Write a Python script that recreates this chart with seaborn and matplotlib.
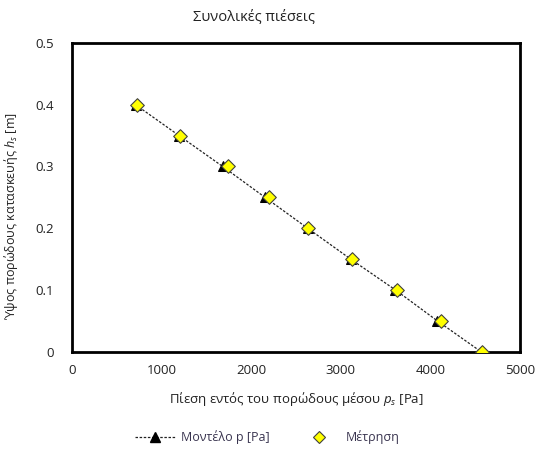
import matplotlib
matplotlib.use("Agg")
import matplotlib.pyplot as plt
import seaborn as sns
import pandas as pd
from matplotlib.lines import Line2D

sns.set_theme(style="white")
plt.rcParams['font.family'] = ['Open Sans', 'DejaVu Sans']
plt.rcParams['mathtext.fontset'] = 'custom'
plt.rcParams['mathtext.it'] = 'Open Sans:italic'
plt.rcParams['mathtext.rm'] = 'Open Sans'

# Heights of the porous structure [m]
height = [0.40, 0.35, 0.30, 0.25, 0.20, 0.15, 0.10, 0.05, 0.00]
# Model pressure [Pa]
model_p = [710, 1195, 1682, 2154, 2630, 3110, 3610, 4077, 4565]
# Measured pressure [Pa]
measured_p = [722, 1205, 1745, 2199, 2637, 3121, 3624, 4115, 4572]

x_ticks = [0, 1000, 2000, 3000, 4000, 5000]
y_ticks = [0, 0.1, 0.2, 0.3, 0.4, 0.5]
y_tick_labels = ["0", "0.1", "0.2", "0.3", "0.4", "0.5"]

model_df = pd.DataFrame({"p": model_p, "h": height})
meas_df = pd.DataFrame({"p": measured_p, "h": height})

fig = plt.figure(figsize=(5.37, 4.55), dpi=100)
ax = fig.add_axes([72 / 537, 1 - 351.7 / 455, 448 / 537, 308.7 / 455])

sns.lineplot(data=model_df, x="p", y="h", ax=ax, sort=False, color="#222222",
             linestyle=(0, (2.0, 1.3)), linewidth=0.9, marker="^", markersize=7,
             markerfacecolor="black", markeredgecolor="black", zorder=2)
sns.scatterplot(data=meas_df, x="p", y="h", ax=ax, marker="D", s=48,
                color="#ffff00", edgecolor="#404040", linewidth=0.8, zorder=3)

ax.set_xlim(0, 5000)
ax.set_ylim(0, 0.5)
ax.set_xticks(x_ticks)
ax.set_yticks(y_ticks)
ax.set_yticklabels(y_tick_labels)
ax.tick_params(direction="in", length=5, width=1, color="black",
               labelsize=9.5, labelcolor="#222222")
ax.tick_params(axis="y", pad=13)
ax.tick_params(axis="x", pad=9)
for s in ax.spines.values():
    s.set_color("black")
    s.set_linewidth(2)

ax.set_xlabel(r"Πίεση εντός του πορώδους μέσου $p_s$ [Pa]", fontsize=9.5,
              color="#222222")
ax.set_ylabel(r"Ύψος πορώδους κατασκευής $h_s$ [m]", fontsize=9,
              color="#222222")
ax.xaxis.set_label_coords(0.5, -0.125)
ax.yaxis.set_label_coords(-0.115, 0.44)

fig.text(254 / 537, 1 - 17 / 455, "Συνολικές πιέσεις", ha="center", va="center",
         fontsize=10.5, color="#222222")

handles = [
    Line2D([], [], color="#222222", linestyle=(0, (2.0, 1.3)), linewidth=0.9,
           marker="^", markersize=7, markerfacecolor="black",
           markeredgecolor="black"),
    Line2D([], [], linestyle="none", marker="D", markersize=6.5,
           markerfacecolor="#ffff00", markeredgecolor="#404040",
           markeredgewidth=0.8),
]
fig.legend(handles, ["Μοντέλο p [Pa]", "Μέτρηση"], loc="center",
           bbox_to_anchor=(267 / 537, 1 - 437 / 455), ncol=2, frameon=False,
           fontsize=9, handlelength=3.2, columnspacing=2.4, handletextpad=0.5,
           labelcolor="#3a3550")

fig.savefig("out.png", dpi=100)
